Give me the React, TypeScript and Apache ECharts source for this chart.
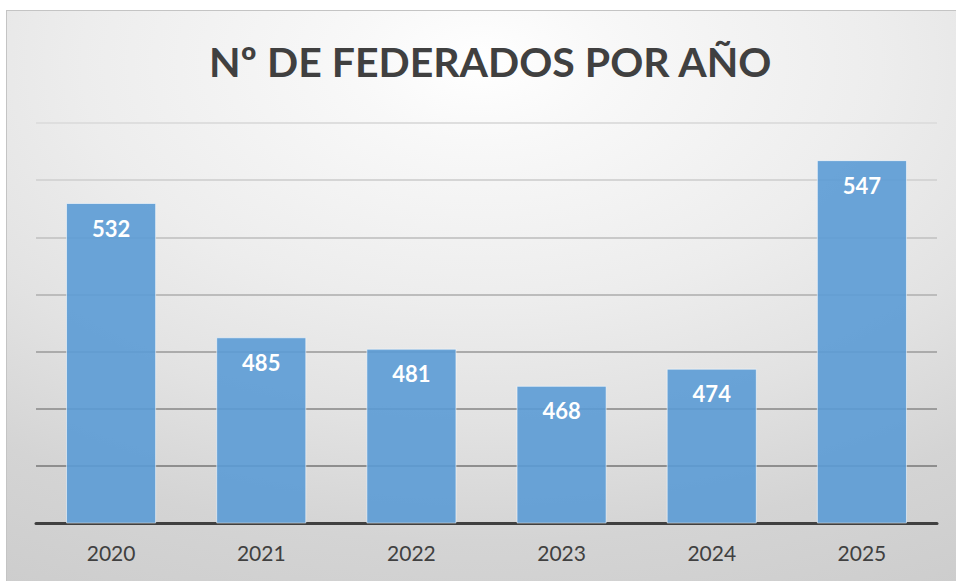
import React, { useEffect, useRef } from "react";
import * as echarts from "echarts";

const TITLE = "Nº DE FEDERADOS POR AÑO";
const years = ["2020", "2021", "2022", "2023", "2024", "2025"];
const federados = [532, 485, 481, 468, 474, 547];
const Y_MIN = 420;
const Y_MAX = 560;
const Y_STEP = 20;
// grid line colours from the axis (420) upward
const gridColors = ["#404040", "#8e8e8e", "#9c9c9c", "#ababab", "#bcbcbc", "#c9c9c9", "#d5d5d5", "#dedede"];

const FONT = "Lato";

export default function App() {
  const ref = useRef<HTMLDivElement>(null);
  useEffect(() => {
    if (!ref.current) return;
    const chart = echarts.init(ref.current, null, { renderer: "svg" });
    chart.setOption({
      animation: false,
      backgroundColor: new echarts.graphic.RadialGradient(0.5, 0.09, 1.4, [
        { offset: 0, color: "#ffffff" },
        { offset: 0.1, color: "#f8f8f8" },
        { offset: 0.3, color: "#ededed" },
        { offset: 0.45, color: "#e2e2e2" },
        { offset: 0.6, color: "#d4d4d4" },
        { offset: 0.85, color: "#c8c8c8" },
        { offset: 1, color: "#c4c4c4" },
      ]),
      title: {
        text: TITLE,
        left: 197,
        top: 25,
        textStyle: {
          fontFamily: FONT,
          fontWeight: "bold",
          fontSize: 41,
          color: "#404040",
        },
      },
      grid: { left: 29, right: 19, top: 112, bottom: 58 },
      xAxis: {
        type: "category",
        data: years,
        axisLine: { show: true, lineStyle: { color: "#404040", width: 3 } },
        axisTick: { show: false },
        axisLabel: {
          fontFamily: FONT,
          fontSize: 21,
          color: "#404040",
          margin: 19,
        },
      },
      yAxis: {
        type: "value",
        min: Y_MIN,
        max: Y_MAX,
        interval: Y_STEP,
        axisLabel: { show: false },
        axisLine: { show: false },
        axisTick: { show: false },
        splitLine: { show: true, lineStyle: { color: gridColors, width: 2 } },
      },
      series: [
        {
          type: "bar",
          data: federados,
          barWidth: "60%",
          itemStyle: {
            color: "rgba(91,155,213,0.9)",
            borderColor: "rgba(255,255,255,0.55)",
            borderWidth: 1,
          },
          label: {
            show: true,
            position: "insideTop",
            distance: 14,
            fontFamily: FONT,
            fontWeight: "bold",
            fontSize: 22,
            color: "#ffffff",
          },
        },
      ],
    });
    return () => chart.dispose();
  }, []);
  return (
    <div
      ref={ref}
      style={{
        position: "absolute",
        left: 6,
        top: 10,
        width: 950,
        height: 571,
        boxSizing: "border-box",
        borderTop: "1px solid #c4c4c4",
        borderLeft: "1px solid #c4c4c4",
      }}
    />
  );
}
